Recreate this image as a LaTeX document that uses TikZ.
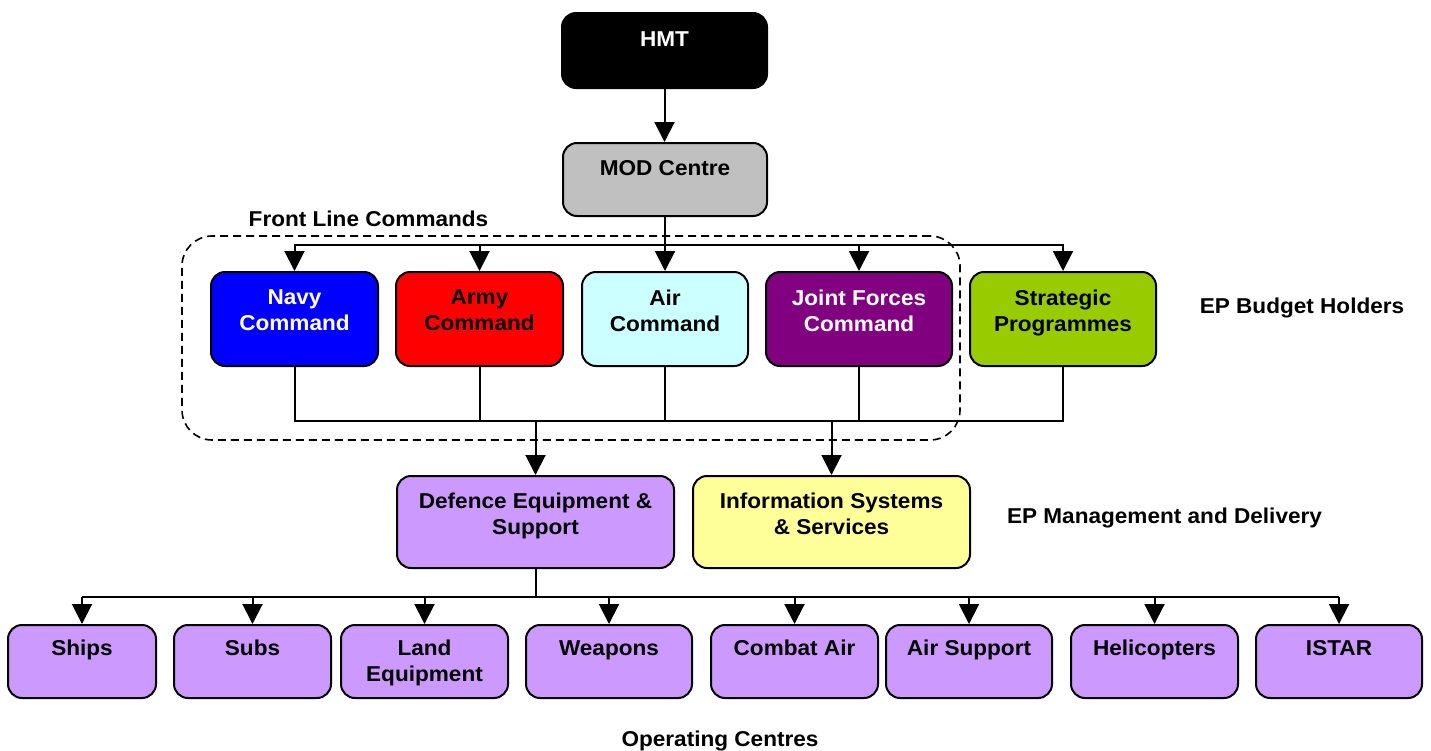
\documentclass[tikz,border=0pt]{standalone}
\usepackage{fontspec}
\setmainfont{Liberation Sans}[FakeStretch=1.05]
\usetikzlibrary{arrows.meta}
\definecolor{modgray}{RGB}{192,192,192}
\definecolor{navyblue}{RGB}{0,0,255}
\definecolor{armyred}{RGB}{255,0,0}
\definecolor{aircyan}{RGB}{204,255,255}
\definecolor{jointpurple}{RGB}{128,0,128}
\definecolor{stratgreen}{RGB}{153,204,0}
\definecolor{lilac}{RGB}{204,153,255}
\definecolor{paleyellow}{RGB}{255,255,153}
\begin{document}
\begin{tikzpicture}[x=1pt,y=-1pt,
  box/.style={draw=black, line width=2pt, rounded corners=14pt, inner sep=0pt},
  txt/.style={font=\fontsize{21.5}{25.5}\selectfont\bfseries, align=center, inner sep=0pt, anchor=north},
  lbl/.style={font=\fontsize{21.5}{25.5}\selectfont\bfseries, inner sep=0pt, anchor=base},
  conn/.style={line width=2pt},
  arr/.style={line width=2pt, -{Triangle[width=20pt,length=20pt]}},
  group/.style={draw=black, line width=1.6pt, dash pattern=on 8pt off 5pt, rounded corners=30pt, inner sep=0pt}
]
\path[use as bounding box, fill=white] (0,0) rectangle (1431,750);

% group frame
\node[group, minimum width=778pt, minimum height=204pt] (flc) at (571,338) {};

% boxes
\node[box, fill=black, minimum width=205pt, minimum height=75pt] (hmt) at (664.5,50.5) {};
\node[box, fill=modgray, minimum width=204pt, minimum height=73pt] (mod) at (665,179.5) {};

\node[box, fill=navyblue, minimum width=167pt, minimum height=94pt] (navy) at (294.5,319) {};
\node[box, fill=armyred, minimum width=167pt, minimum height=94pt] (army) at (479.5,319) {};
\node[box, fill=aircyan, minimum width=166pt, minimum height=94pt] (air) at (665,319) {};
\node[box, fill=jointpurple, minimum width=186pt, minimum height=94pt] (joint) at (859,319) {};
\node[box, fill=stratgreen, minimum width=186pt, minimum height=94pt] (strat) at (1063,319) {};

\node[box, fill=lilac, minimum width=277pt, minimum height=92pt] (des) at (535.5,522) {};
\node[box, fill=paleyellow, minimum width=277pt, minimum height=92pt] (iss) at (831.5,522) {};

\node[box, fill=lilac, minimum width=148pt, minimum height=73pt] (ships) at (82,661.5) {};
\node[box, fill=lilac, minimum width=157pt, minimum height=73pt] (subs) at (252.5,661.5) {};
\node[box, fill=lilac, minimum width=167pt, minimum height=73pt] (land) at (424.5,661.5) {};
\node[box, fill=lilac, minimum width=166pt, minimum height=73pt] (weap) at (609,661.5) {};
\node[box, fill=lilac, minimum width=167pt, minimum height=73pt] (cair) at (794.5,661.5) {};
\node[box, fill=lilac, minimum width=166pt, minimum height=73pt] (asup) at (969,661.5) {};
\node[box, fill=lilac, minimum width=167pt, minimum height=73pt] (heli) at (1154.5,661.5) {};
\node[box, fill=lilac, minimum width=166pt, minimum height=73pt] (istar) at (1339,661.5) {};

% box texts
\node[txt, text=white] (hmtt) at ([yshift=-20pt]hmt.north) {HMT};
\node[txt] (modt) at ([yshift=-18pt]mod.north) {MOD Centre};
\node[txt, text=white] (navyt) at ([yshift=-19pt]navy.north) {Navy\\Command};
\node[txt] (armyt) at ([yshift=-19pt]army.north) {Army\\Command};
\node[txt] (airt) at ([yshift=-19pt]air.north) {Air\\Command};
\node[txt, text=white] (jointt) at ([yshift=-19pt]joint.north) {Joint Forces\\Command};
\node[txt] (stratt) at ([yshift=-19pt]strat.north) {Strategic\\Programmes};
\node[txt] (dest) at ([yshift=-18pt]des.north) {Defence Equipment \&\\Support};
\node[txt] (isst) at ([yshift=-18pt]iss.north) {Information Systems\\\& Services};
\node[txt] (shipst) at ([yshift=-16pt]ships.north) {Ships};
\node[txt] (subst) at ([yshift=-16pt]subs.north) {Subs};
\node[txt] (landt) at ([yshift=-16pt]land.north) {Land\\Equipment};
\node[txt] (weapt) at ([yshift=-16pt]weap.north) {Weapons};
\node[txt] (cairt) at ([yshift=-16pt]cair.north) {Combat Air};
\node[txt] (asupt) at ([yshift=-16pt]asup.north) {Air Support};
\node[txt] (helit) at ([yshift=-16pt]heli.north) {Helicopters};
\node[txt] (istart) at ([yshift=-16pt]istar.north) {ISTAR};

% free labels
\node[lbl] (flcl) at (368.5,226) {Front Line Commands};
\node[lbl] (epbh) at (1302,313) {EP Budget Holders};
\node[lbl] (epmd) at (1164.5,523) {EP Management and Delivery};
\node[lbl] (opc) at (720,746) {Operating Centres};

% connectors
\draw[arr] (hmt.south) -- (hmt.south |- mod.north);

\coordinate (b1) at (665,245);
\draw[conn] (mod.south) -- (b1);
\draw[arr] (b1) -| (navy.north);
\draw[arr] (b1) -| (army.north);
\draw[arr] (b1) -- (air.north);
\draw[arr] (b1) -| (joint.north);
\draw[arr] (b1) -| (strat.north);

\coordinate (b2) at (0,421);
\draw[conn] (navy.south) |- (strat.south |- b2) -- (strat.south);
\draw[conn] (army.south) -- (army.south |- b2);
\draw[conn] (air.south) -- (air.south |- b2);
\draw[conn] (joint.south) -- (joint.south |- b2);
\draw[arr] (des.north |- b2) -- (des.north);
\draw[arr] (iss.north |- b2) -- (iss.north);

\coordinate (b3) at (0,597);
\draw[conn] (des.south) -- (des.south |- b3);
\draw[conn] (ships.north |- b3) -- (istar.north |- b3);
\foreach \n in {ships,subs,land,weap,cair,asup,heli,istar}
  \draw[arr] (\n.north |- b3) -- (\n.north);
\end{tikzpicture}
\end{document}
